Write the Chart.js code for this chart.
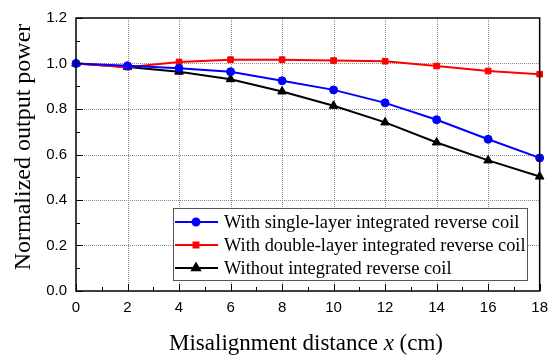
<!DOCTYPE html>
<html>
<head>
<meta charset="utf-8">
<script src="https://cdn.jsdelivr.net/npm/chart.js@4.4.0/dist/chart.umd.min.js"></script>
<style>
  html, body { margin: 0; padding: 0; background: #fff; }
  #wrap { width: 556px; height: 356px; position: relative; }
</style>
</head>
<body>
<div id="wrap"><canvas id="chart"></canvas></div>
<script>
// --- data ---
const distances = [0, 2, 4, 6, 8, 10, 12, 14, 16, 18];
const singleLayer = [1.0, 0.99, 0.979, 0.964, 0.924, 0.884, 0.827, 0.753, 0.667, 0.585];
const doubleLayer = [1.0, 0.984, 1.007, 1.017, 1.017, 1.013, 1.010, 0.989, 0.967, 0.953];
const withoutCoil = [1.0, 0.985, 0.964, 0.931, 0.877, 0.814, 0.741, 0.653, 0.574, 0.503];
const seriesLabels = [
  'With single-layer integrated reverse coil',
  'With double-layer integrated reverse coil',
  'Without integrated reverse coil'
];
const xTitleParts = ['Misalignment distance ', 'x', ' (cm)'];
const yTitle = 'Normalized output power';

const serif = '"Liberation Serif", "Times New Roman", serif';
const sans = '"Liberation Sans", Arial, sans-serif';

function toPoints(values) {
  return values.map((v, i) => ({ x: distances[i], y: v }));
}

function makeSet(label, values, color, style, radius) {
  return {
    label,
    data: toPoints(values),
    borderColor: color,
    backgroundColor: color,
    borderWidth: 2,
    pointStyle: style,
    pointRadius: radius,
    pointBackgroundColor: color,
    pointBorderColor: color,
    pointBorderWidth: 1,
    tension: 0,
    clip: false
  };
}

// dotted grid, frame, inward ticks, axis titles and legend
const decorations = {
  id: 'decorations',
  beforeDatasetsDraw(chart) {
    const { ctx, chartArea: a, scales } = chart;
    ctx.save();
    ctx.strokeStyle = '#8a8a8a';
    ctx.lineWidth = 1;
    ctx.setLineDash([1, 1]);
    ctx.beginPath();
    for (let v = 2; v < 18; v += 2) {
      const px = Math.round(scales.x.getPixelForValue(v)) + 0.5;
      ctx.moveTo(px, a.top);
      ctx.lineTo(px, a.bottom);
    }
    for (let k = 2; k < 12; k += 2) {
      const py = Math.round(scales.y.getPixelForValue(k / 10)) + 0.5;
      ctx.moveTo(a.left, py);
      ctx.lineTo(a.right, py);
    }
    ctx.stroke();
    ctx.restore();
  },
  afterDatasetsDraw(chart) {
    const { ctx, chartArea: a, scales } = chart;
    const xs = scales.x, ys = scales.y;
    ctx.save();
    ctx.strokeStyle = '#000';
    ctx.lineWidth = 1;
    ctx.beginPath();
    for (let v = 0; v <= 18; v++) {
      const px = Math.round(xs.getPixelForValue(v)) + 0.5;
      const len = v % 2 === 0 ? 7 : 4;
      ctx.moveTo(px, a.bottom);
      ctx.lineTo(px, a.bottom - len);
    }
    for (let k = 0; k <= 12; k++) {
      const py = Math.round(ys.getPixelForValue(k / 10)) + 0.5;
      const len = k % 2 === 0 ? 7 : 4;
      ctx.moveTo(a.left, py);
      ctx.lineTo(a.left + len, py);
    }
    ctx.stroke();
    ctx.lineWidth = 1.5;
    ctx.strokeRect(a.left, a.top, a.right - a.left, a.bottom - a.top);
    ctx.restore();
  },
  afterDraw(chart) {
    const { ctx, chartArea: a } = chart;
    ctx.save();
    ctx.fillStyle = '#000';

    // y title
    ctx.font = '24px ' + serif;
    ctx.textAlign = 'center';
    ctx.textBaseline = 'middle';
    ctx.translate(24, 147);
    ctx.rotate(-Math.PI / 2);
    ctx.fillText(yTitle, 0, 0);
    ctx.setTransform(1, 0, 0, 1, 0, 0);

    // x title with italic x
    const fonts = ['23px ' + serif, 'italic 23px ' + serif, '23px ' + serif];
    let total = 0;
    const widths = xTitleParts.map((t, i) => {
      ctx.font = fonts[i];
      const w = ctx.measureText(t).width;
      total += w;
      return w;
    });
    let x = 306 - total / 2;
    ctx.textAlign = 'left';
    ctx.textBaseline = 'alphabetic';
    xTitleParts.forEach((t, i) => {
      ctx.font = fonts[i];
      ctx.fillText(t, x, 350);
      x += widths[i];
    });

    // legend
    const lx = 173, ly = 208, lw = 354, lh = 72;
    ctx.fillStyle = '#fff';
    ctx.fillRect(lx, ly, lw, lh);
    ctx.strokeStyle = '#555';
    ctx.lineWidth = 1;
    ctx.strokeRect(lx + 0.5, ly + 0.5, lw, lh);
    ctx.font = '18.4px ' + serif;
    ctx.textBaseline = 'middle';
    chart.data.datasets.forEach((ds, i) => {
      const ry = ly + 14 + i * 23;
      ctx.strokeStyle = ds.borderColor;
      ctx.lineWidth = 2;
      ctx.beginPath();
      ctx.moveTo(lx + 2, ry);
      ctx.lineTo(lx + 45, ry);
      ctx.stroke();
      ctx.fillStyle = ds.borderColor;
      Chart.helpers.drawPoint(ctx, { pointStyle: ds.pointStyle, radius: ds.pointRadius - 0.5, rotation: 0, borderWidth: 1 }, lx + 23, ry);
      ctx.fillStyle = '#000';
      ctx.fillText(ds.label, lx + 51, ry + 1);
    });
    ctx.restore();
  }
};

new Chart(document.getElementById('chart'), {
  type: 'line',
  data: {
    datasets: [
      makeSet(seriesLabels[0], singleLayer, '#0000ff', 'circle', 4),
      makeSet(seriesLabels[1], doubleLayer, '#ff0000', 'rect', 4),
      makeSet(seriesLabels[2], withoutCoil, '#000000', 'triangle', 5)
    ]
  },
  options: {
    responsive: true,
    maintainAspectRatio: false,
    animation: false,
    layout: { padding: { top: 13, right: 16, left: 0, bottom: 0 } },
    plugins: { legend: { display: false }, tooltip: { enabled: false } },
    scales: {
      x: {
        type: 'linear',
        min: 0,
        max: 18,
        afterFit: (s) => { s.height = 65; },
        ticks: { stepSize: 2, padding: 8, color: '#000', font: { family: sans, size: 15 } },
        grid: { display: false, drawTicks: false },
        border: { display: false }
      },
      y: {
        min: 0,
        max: 1.2,
        afterFit: (s) => { s.width = 76; },
        ticks: {
          stepSize: 0.2,
          padding: 9,
          color: '#000',
          font: { family: sans, size: 15 },
          callback: (v) => Number(v).toFixed(1)
        },
        grid: { display: false, drawTicks: false },
        border: { display: false }
      }
    }
  },
  plugins: [decorations]
});
</script>
</body>
</html>
